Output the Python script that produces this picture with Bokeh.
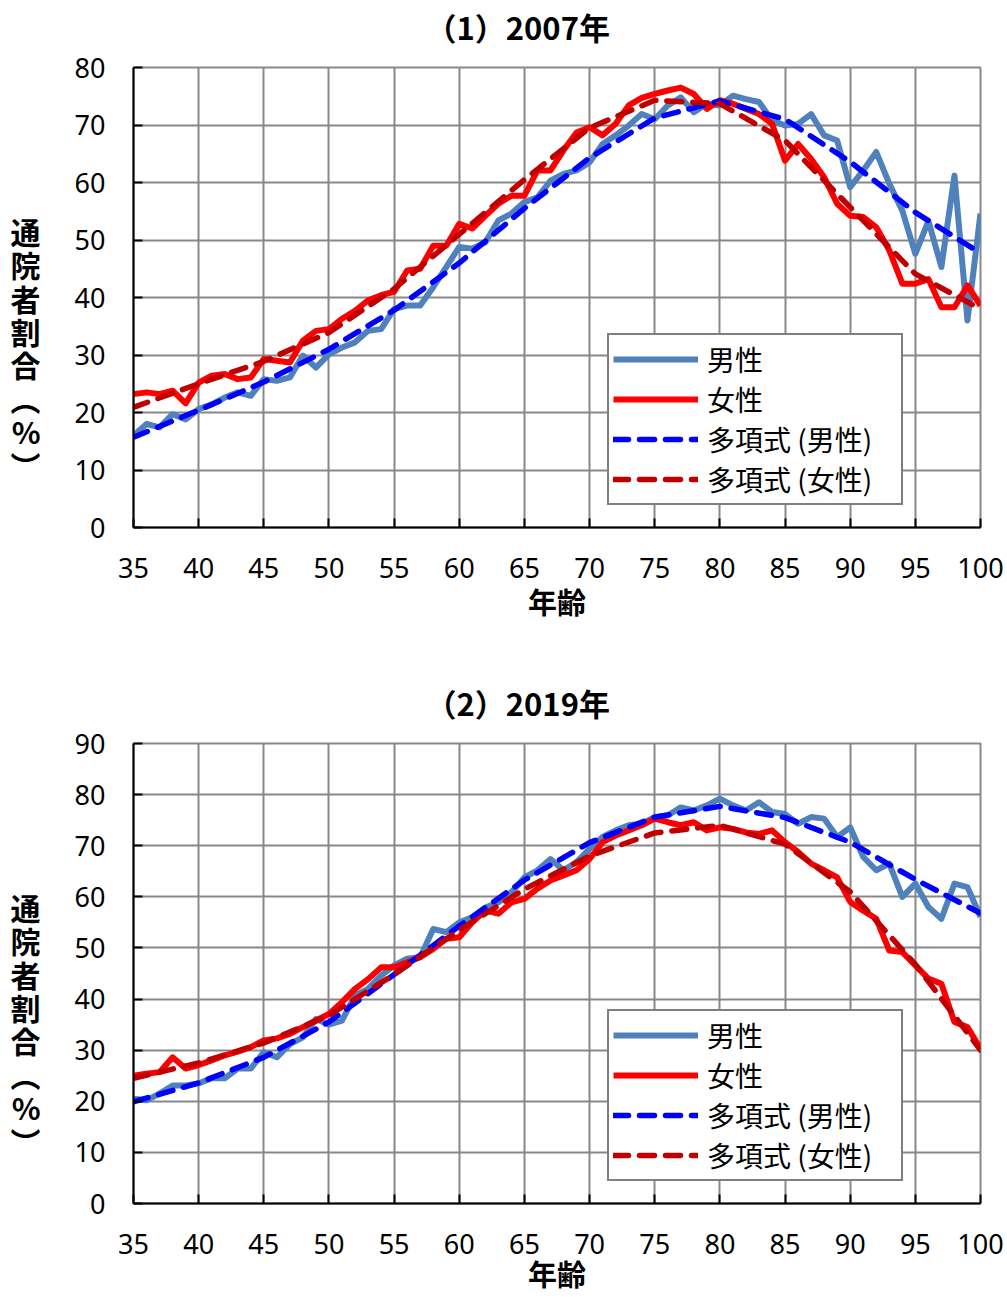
from bokeh.plotting import figure
from bokeh.models import Range1d, FixedTicker, Legend, LegendItem, Title
from bokeh.layouts import column
from bokeh.embed import file_html
from bokeh.resources import INLINE

# ---------------- data ----------------
ages = list(range(35, 101))
trend_ages = [35, 40, 45, 50, 55, 60, 65, 70, 75, 80, 85, 90, 95, 100]
x_ticks = [35, 40, 45, 50, 55, 60, 65, 70, 75, 80, 85, 90, 95, 100]

male_2007 = [16.0, 18.0, 17.4, 19.7, 18.8, 20.6, 21.4, 22.6, 23.5, 22.9,
             25.8, 25.5, 26.1, 29.9, 27.8, 30.1, 31.3, 32.2, 34.2, 34.5,
             38.0, 38.6, 38.6, 41.8, 45.3, 48.8, 48.5, 49.6, 53.4, 54.6,
             56.6, 57.4, 60.3, 61.5, 62.1, 63.5, 66.7, 68.2, 69.9, 71.9,
             71.0, 73.4, 74.8, 72.2, 73.7, 73.4, 75.1, 74.5, 74.0, 70.8,
             69.9, 70.2, 71.9, 68.2, 67.3, 59.2, 62.1, 65.3, 59.8, 55.1,
             47.6, 53.3, 45.3, 61.2, 36.0, 54.6]
female_2007 = [23.2, 23.5, 23.2, 23.8, 21.6, 25.2, 26.4, 26.7, 25.8, 26.1,
               29.3, 29.0, 28.7, 32.5, 34.2, 34.5, 36.3, 37.7, 39.5, 40.4,
               41.0, 44.7, 45.0, 49.0, 49.0, 52.8, 52.0, 54.2, 56.3, 57.7,
               57.7, 62.1, 62.1, 65.6, 68.7, 69.6, 68.2, 70.2, 73.4, 74.7,
               75.4, 76.0, 76.5, 75.4, 72.8, 74.3, 73.7, 72.8, 71.9, 70.2,
               63.8, 66.7, 64.1, 60.9, 56.3, 54.2, 54.0, 52.2, 48.2, 42.4,
               42.4, 43.2, 38.3, 38.3, 42.1, 38.6]
trend_male_2007 = [15.7, 20.4, 25.3, 31.0, 37.8, 46.0, 55.5, 64.3, 71.2, 74.2,
                   71.0, 63.6, 54.8, 47.7]
trend_female_2007 = [20.9, 25.0, 28.9, 33.9, 41.5, 51.0, 60.5, 69.5, 74.3, 73.7,
                     67.3, 55.7, 44.1, 38.0]

male_2019 = [20.5, 20.2, 21.5, 23.1, 23.1, 23.5, 24.5, 24.5, 26.4, 26.4,
             29.6, 28.6, 31.2, 32.5, 36.1, 35.0, 35.8, 40.7, 42.0, 44.6,
             46.6, 47.9, 48.2, 53.7, 53.1, 55.0, 56.0, 57.9, 58.9, 60.9,
             63.8, 65.2, 67.4, 65.2, 66.8, 69.4, 71.7, 73.0, 74.0, 74.3,
             75.6, 75.9, 77.5, 76.9, 77.9, 79.2, 77.9, 76.9, 78.5, 76.6,
             76.2, 74.3, 75.6, 75.3, 71.7, 73.6, 67.8, 65.2, 66.5, 60.0,
             62.6, 58.0, 55.7, 62.6, 61.9, 56.1]
female_2019 = [25.0, 25.4, 25.7, 28.6, 26.4, 27.1, 28.0, 29.0, 29.7, 30.6,
               31.9, 32.3, 33.2, 34.5, 35.8, 37.1, 39.4, 42.0, 43.9, 46.2,
               46.2, 47.2, 48.2, 49.8, 51.8, 52.1, 55.0, 57.3, 56.7, 58.9,
               59.6, 61.6, 63.2, 64.2, 65.2, 67.4, 70.7, 72.0, 73.0, 74.0,
               75.3, 74.6, 74.0, 74.6, 73.0, 73.6, 73.3, 72.6, 72.3, 73.0,
               70.7, 68.8, 66.5, 65.2, 63.8, 59.0, 57.3, 55.7, 49.5, 49.2,
               46.6, 44.0, 43.0, 35.5, 34.5, 30.3]
trend_male_2019 = [19.9, 23.6, 28.6, 35.5, 44.8, 54.3, 63.3, 70.6, 75.6, 77.7,
                   75.5, 70.7, 63.4, 56.8]
trend_female_2019 = [24.5, 27.5, 31.4, 36.8, 44.8, 53.5, 61.5, 68.0, 72.5, 74.0,
                     70.3, 61.0, 46.8, 30.0]

titles = ["（1）2007年", "（2）2019年"]
x_label = "年齢"
y_label_chars = ["通", "院", "者", "割", "合", "︵", "%", "︶"]
legend_labels = ["男性", "女性", "多項式 (男性)", "多項式 (女性)"]

# ---------------- style ----------------
C_MALE = "#4F81BD"
C_FEMALE = "#FF0000"
C_TMALE = "#0000FF"
C_TFEMALE = "#C00000"
CJK = "Noto Sans CJK JP"
NUM = "Noto Sans"
GRID = "#888888"

FIG_W = 1007
FRAME_L, FRAME_R = 133, 980


def make_chart(title, male, female, tmale, tfemale, ymax, fig_h, frame_top, frame_bot,
               xlabel_standoff):
    p = figure(width=FIG_W, height=fig_h,
               x_range=Range1d(35, 100), y_range=Range1d(0, ymax),
               output_backend="svg", toolbar_location=None,
               min_border_left=FRAME_L, min_border_right=FIG_W - FRAME_R,
               min_border_top=frame_top, min_border_bottom=fig_h - frame_bot)
    # trailing empty line + small line height lifts the title away from the frame
    p.title = Title(text=title + "\n", align="left", offset=292, standoff=0,
                    text_font=CJK, text_font_style="bold",
                    text_font_size="31px", text_color="black",
                    text_line_height=0.41)
    p.background_fill_color = "white"
    p.border_fill_color = "white"
    p.outline_line_color = GRID
    p.outline_line_width = 2

    p.xaxis.ticker = FixedTicker(ticks=x_ticks)
    p.yaxis.ticker = FixedTicker(ticks=list(range(0, ymax + 1, 10)))
    for ax in (p.xaxis, p.yaxis):
        ax.axis_line_color = "black"
        ax.axis_line_width = 2
        ax.major_tick_line_color = "black"
        ax.major_tick_line_width = 2
        ax.major_tick_in = 9
        ax.major_tick_out = 0
        ax.minor_tick_line_color = None
        ax.major_label_text_font = NUM
        ax.major_label_text_font_size = "27px"
        ax.major_label_text_color = "black"
        ax.axis_label_text_font = CJK
        ax.axis_label_text_font_style = "bold"
        ax.axis_label_text_color = "black"
    p.yaxis.major_label_standoff = 28
    p.xaxis.major_label_standoff = 30

    p.xaxis.axis_label = x_label
    p.xaxis.axis_label_text_font_size = "29px"
    p.xaxis.axis_label_standoff = xlabel_standoff

    p.yaxis.axis_label = "\n\n\n" + "\n".join(y_label_chars)
    p.yaxis.axis_label_orientation = "horizontal"
    p.yaxis.axis_label_text_font_size = "30px"
    p.yaxis.axis_label_text_line_height = 0.76
    p.yaxis.axis_label_text_align = "center"
    p.yaxis.axis_label_standoff = 31

    for g in (p.xgrid, p.ygrid):
        g.grid_line_color = GRID
        g.grid_line_width = 2

    r1 = p.line(ages, male, line_color=C_MALE, line_width=6, line_join="round")
    r2 = p.line(ages, female, line_color=C_FEMALE, line_width=6, line_join="round")
    r3 = p.line(trend_ages, tmale, line_color=C_TMALE, line_width=5.5,
                line_dash="15 11", line_cap="round", line_join="round")
    r4 = p.line(trend_ages, tfemale, line_color=C_TFEMALE, line_width=5.5,
                line_dash="15 11", line_cap="round", line_join="round")

    legend = Legend(items=[LegendItem(label=legend_labels[0], renderers=[r1]),
                           LegendItem(label=legend_labels[1], renderers=[r2]),
                           LegendItem(label=legend_labels[2], renderers=[r3]),
                           LegendItem(label=legend_labels[3], renderers=[r4])],
                    location=(474, 22), margin=0, padding=4, spacing=0,
                    glyph_width=85, glyph_height=30, label_height=30,
                    label_width=190, label_standoff=9,
                    label_text_font=CJK, label_text_font_size="28px",
                    label_text_color="black",
                    border_line_color="black", border_line_width=2,
                    background_fill_color="white", background_fill_alpha=1.0)
    p.add_layout(legend)
    return p


p1 = make_chart(titles[0], male_2007, female_2007, trend_male_2007, trend_female_2007,
                80, 668, 67, 527, -1)
p2 = make_chart(titles[1], male_2019, female_2019, trend_male_2019, trend_female_2019,
                90, 630, 75, 535, -5)

layout = column(p1, p2, spacing=0)
open("out.html", "w").write(file_html(layout, INLINE))
